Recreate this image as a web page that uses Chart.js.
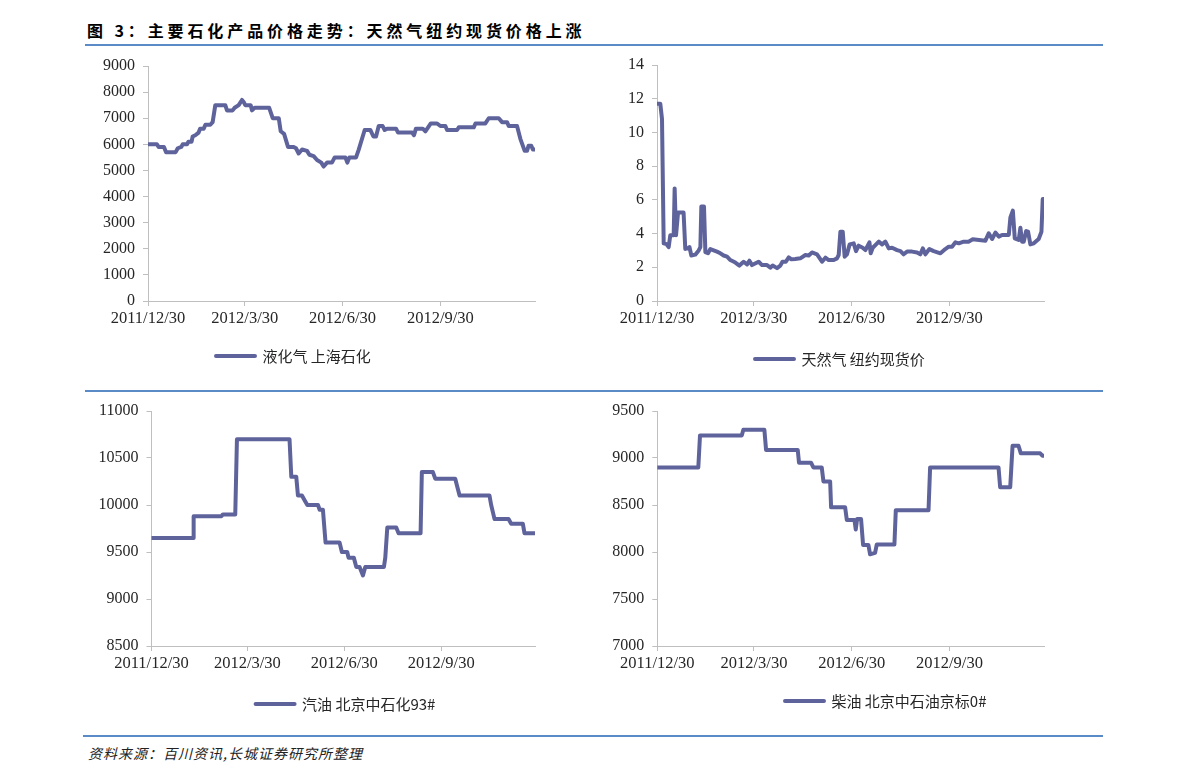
<!DOCTYPE html>
<html><head><meta charset="utf-8">
<script src="https://cdn.jsdelivr.net/npm/chart.js@4.4.1/dist/chart.umd.min.js"></script>
<style>
html,body{margin:0;padding:0;background:#fff;}
body{width:1191px;height:781px;position:relative;overflow:hidden;font-family:"Noto Sans CJK SC",sans-serif;}
.title{position:absolute;left:87px;top:20px;font-size:16px;font-weight:bold;letter-spacing:3.9px;line-height:20px;color:#000;white-space:nowrap;}
.rule{position:absolute;left:85px;width:1018px;height:2px;background:#5b8bc6;}
.src{position:absolute;left:88px;top:744px;font-size:14px;font-style:italic;letter-spacing:1px;line-height:18px;color:#222;white-space:nowrap;}
canvas{position:absolute;}
</style></head>
<body>
<div class="title">图 3：主要石化产品价格走势：天然气纽约现货价格上涨</div>
<div class="rule" style="top:44px"></div>
<div class="rule" style="top:390px"></div>
<div class="rule" style="top:735px;left:83px;width:1020px"></div>
<div class="src">资料来源：百川资讯,长城证券研究所整理</div>
<canvas id="c1" width="520" height="330" style="left:40px;top:52px"></canvas>
<canvas id="c2" width="520" height="330" style="left:560px;top:52px"></canvas>
<canvas id="c3" width="520" height="330" style="left:40px;top:397px"></canvas>
<canvas id="c4" width="520" height="330" style="left:560px;top:397px"></canvas>
<script>
// x positions are days since 2011/12/30
const xTickDays = [0, 91, 183, 275];
const xTickLabels = ['2011/12/30', '2012/3/30', '2012/6/30', '2012/9/30'];

const lpgName = '液化气 上海石化';
const lpgDays = [0,8.4,10,15,17,26,28,31.3,32.6,36.7,38,41,42,44.5,47.6,49,52.4,54,58.6,60.8,63.3,72.7,74.3,79.6,81.5,85.3,88.4,90.3,91.5,96.6,97.8,100.3,114,117.3,123,124.8,128,131.7,137,139.2,141.7,144.9,149.6,151.8,155.8,159,163,165.2,168.4,173,175.6,185.6,187.5,189.4,195.7,198.2,203.8,209.1,212,214.5,217,220.7,222.6,224.8,233.3,235.2,248.4,250.2,252,258.4,260.9,266,271.9,275,279.7,281.3,290.7,292.3,306.4,308,317.3,320.5,329.9,333,337.7,339.3,347.1,350.3,354.3,356.5,358,360.5,362,364];
const lpgValues = [6000,6000,5900,5900,5700,5700,5850,5900,6000,6000,6100,6100,6300,6350,6450,6600,6600,6750,6750,6850,7500,7500,7300,7300,7400,7500,7700,7600,7500,7500,7300,7400,7400,7000,7000,6500,6400,5900,5900,5850,5650,5800,5750,5600,5550,5400,5300,5150,5300,5300,5500,5500,5300,5500,5500,5800,6550,6550,6300,6300,6700,6700,6550,6600,6600,6450,6450,6350,6600,6600,6500,6800,6800,6700,6700,6550,6550,6650,6650,6800,6800,7000,7000,6850,6850,6700,6700,6200,5750,5750,5950,5950,5800,5800];

const gasName = '天然气 纽约现货价';
const gasDays = [0,3.1,4.7,6.3,9,11,12.5,15.7,16.6,17.9,19.8,25,26.6,29,30.5,32.3,36,39.2,40.8,41.7,44.2,45.5,48,50.2,56.4,59.6,62.7,65.9,69,73.7,77.5,81.5,84.7,86.9,89.4,95.6,98.8,103.5,106.6,108.8,112.9,116,118,121.2,123.9,126.4,130,134.8,139.6,142.7,145.8,150.5,152,155.2,158.4,161.5,166.2,169.3,170.9,172.5,174.7,176.5,178.7,181.2,185,187.2,189.7,193.5,196,199.8,201,202.9,205.4,208.6,211.7,214.8,218,221.1,225.8,229,232,235.2,239.9,244.6,247.7,250,252.4,256.2,260.3,266.6,271.2,274.4,277.5,280.7,283.8,288.5,293,297,308.9,312,315.2,318.3,321.4,324.6,330.9,332.4,334.7,336.5,340.2,341.8,343.4,345,347.2,349,351.2,354.4,359,361.6,362.8,364];
const gasValues = [11.7,11.7,10.8,3.42,3.37,3.2,3.9,3.9,6.68,3.9,5.25,5.25,3.09,3.13,3.2,2.7,2.75,3.0,3.2,5.6,5.6,2.9,2.83,3.08,2.93,2.83,2.7,2.63,2.43,2.28,2.1,2.33,2.17,2.39,2.13,2.33,2.13,2.13,1.98,2.1,1.95,2.1,2.33,2.33,2.59,2.47,2.49,2.53,2.73,2.7,2.88,2.77,2.63,2.33,2.57,2.43,2.43,2.53,2.73,4.11,4.11,2.63,2.77,3.36,3.42,2.96,3.28,3.16,3.02,3.48,2.83,3.16,3.32,3.52,3.36,3.52,3.12,3.16,3.02,2.96,2.77,2.93,2.93,2.88,2.77,3.12,2.77,3.08,2.96,2.83,3.08,3.22,3.22,3.48,3.42,3.52,3.52,3.66,3.58,4.02,3.68,4.06,3.82,3.92,3.92,4.96,5.36,3.72,3.62,4.35,3.52,3.52,4.15,4.11,3.36,3.42,3.68,4.11,6.05,6.05];

const petrolName = '汽油 北京中石化93#';
const petrolDays = [0,39.4,40,66.3,67.8,79.5,81.1,131,132.7,137.4,139,142.8,145.3,147.9,158,159.6,162.7,165.2,178.5,180.7,185.8,187,192,194.4,197.5,200.7,202.9,220.6,221.9,223.8,232.3,234.5,255.4,256.6,267.1,269.3,288.3,290.1,292.4,320.8,322.4,325.6,338.9,341.4,352.5,354,364];
const petrolValues = [9650,9650,9880,9880,9900,9900,10700,10700,10300,10300,10100,10100,10050,10000,10000,9950,9950,9600,9600,9500,9500,9440,9440,9340,9340,9250,9340,9340,9440,9760,9760,9700,9700,10350,10350,10280,10280,10200,10100,10100,10000,9850,9850,9800,9800,9700,9700];

const dieselName = '柴油 北京中石油京标0#';
const dieselDays = [0,38.6,40.2,79.5,81,100.8,102.4,132.2,133.4,144.7,146.9,154.8,156.4,162.7,163.6,176.8,178.4,185.6,186.8,188.1,191.8,193.7,198.7,200.3,205,206.6,223.2,224.5,255.3,256.8,321.2,322.7,332.2,334.4,340,342.2,360.4,362.5,364];
const dieselValues = [8900,8900,9240,9240,9300,9300,9085,9085,8950,8950,8900,8900,8750,8750,8475,8475,8340,8340,8240,8350,8350,8075,8075,7975,7990,8080,8080,8445,8445,8900,8900,8690,8690,9130,9130,9050,9050,9025,9025];

const LINE_COLOR = '#5f639b';
const AXIS_COLOR = '#bfbfbf';
const TEXT_COLOR = '#262626';
const X_AXIS_H = 30, LEGEND_H = 35;

const legendPlace = {
  id: 'legendPlace',
  afterLayout(chart, args, opts) {
    const lg = chart.legend;
    if (!lg) return;
    const pad = 10;
    const dx = opts.x - (lg.left + pad);
    const dy = opts.y - (lg.top + pad + 7.5);
    lg.left += dx; lg.right += dx; lg.top += dy; lg.bottom += dy;
  }
};

function makeChart(id, name, days, values, yMin, yMax, yStep, g) {
  const pts = days.map((d, i) => ({x: d, y: values[i]}));
  new Chart(document.getElementById(id), {
    type: 'line',
    data: { datasets: [{ label: name, data: pts, borderColor: LINE_COLOR, backgroundColor: LINE_COLOR,
      borderWidth: 4, pointRadius: 0, tension: 0, borderJoinStyle: 'round', borderCapStyle: 'round', fill: false }] },
    plugins: [legendPlace],
    options: {
      responsive: false, animation: false, devicePixelRatio: 1,
      layout: { padding: { left: 0, top: g.top - g.T, right: g.L + g.W - g.right,
        bottom: g.T + g.H - g.bottom - X_AXIS_H - LEGEND_H } },
      scales: {
        x: {
          type: 'linear', min: 0, max: 364, bounds: 'data',
          afterBuildTicks: s => { s.ticks = xTickDays.map(v => ({value: v})); },
          afterFit: s => { s.height = X_AXIS_H; s.paddingLeft = 0; s.paddingRight = 0; },
          ticks: { autoSkip: false, maxRotation: 0, minRotation: 0, padding: 3, color: TEXT_COLOR,
            font: { family: 'Liberation Serif', size: 16.5 }, callback: (v, i) => xTickLabels[i] },
          grid: { display: true, drawOnChartArea: false, drawTicks: true, tickLength: 5, color: AXIS_COLOR },
          border: { display: true, color: AXIS_COLOR, width: 1 }
        },
        y: {
          min: yMin, max: yMax,
          afterFit: s => { s.width = g.left - g.L; s.paddingTop = 0; s.paddingBottom = 0; },
          ticks: { stepSize: yStep, autoSkip: false, padding: 8, color: TEXT_COLOR,
            font: { family: 'Liberation Serif', size: 16 }, callback: v => String(v) },
          grid: { display: true, drawOnChartArea: false, drawTicks: true, tickLength: 5, color: AXIS_COLOR },
          border: { display: true, color: AXIS_COLOR, width: 1 }
        }
      },
      plugins: {
        tooltip: { enabled: false },
        legend: { display: true, position: 'bottom', align: 'start',
          labels: { boxWidth: 39, boxHeight: 0, padding: 10, color: TEXT_COLOR,
            font: { family: 'Noto Sans CJK SC', size: 15 } } },
        legendPlace: { x: g.legX - g.L, y: g.legY - g.T }
      }
    }
  });
}

makeChart('c1', lpgName, lpgDays, lpgValues, 0, 9000, 1000,
  {L: 40, T: 52, W: 520, H: 330, left: 148, top: 66, right: 535, bottom: 301, legX: 216, legY: 356});
makeChart('c2', gasName, gasDays, gasValues, 0, 14, 2,
  {L: 560, T: 52, W: 520, H: 330, left: 657, top: 65, right: 1044, bottom: 301, legX: 755, legY: 359});
makeChart('c3', petrolName, petrolDays, petrolValues, 8500, 11000, 500,
  {L: 40, T: 397, W: 520, H: 330, left: 151.5, top: 411, right: 535, bottom: 646, legX: 255.6, legY: 704});
makeChart('c4', dieselName, dieselDays, dieselValues, 7000, 9500, 500,
  {L: 560, T: 397, W: 520, H: 330, left: 657.3, top: 411, right: 1044, bottom: 646, legX: 785, legY: 701});
</script>
</body></html>
